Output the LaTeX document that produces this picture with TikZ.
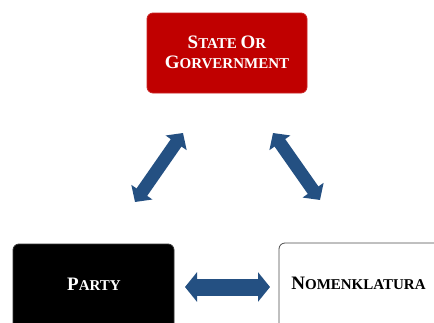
\documentclass[tikz,border=0pt]{standalone}
\usepackage{fontspec}
\setmainfont{Liberation Serif}
\usetikzlibrary{arrows.meta}
\definecolor{boxred}{RGB}{192,0,0}
\definecolor{arrowblue}{RGB}{36,80,130}
\newcommand\scx[2]{{\fontsize{19}{20}\selectfont #1}{\fontsize{15}{20}\selectfont #2}}
\begin{document}
\begin{tikzpicture}[x=1pt,y=-1pt,
  box/.style={rounded corners=6pt, line width=0.8pt},
  lbl/.style={font=\bfseries\fontsize{15}{20}\selectfont, align=center, inner sep=0pt},
  blockarrow/.style 2 args={arrowblue, line width=#1, {Triangle[length=12pt,width=#2]}-{Triangle[length=12pt,width=#2]}},
]
\useasboundingbox (0,0) rectangle (434,322);
% boxes
\path[box, fill=boxred, draw=boxred!85!white] (147,13) rectangle (307,93);
\path[box, fill=black, draw=black!80] (13,244) rectangle (174,330);
\path[box, fill=white, draw=black!70] (279,243) rectangle (440,330);
% labels
\node[lbl, text=white] (state) at (227,52) {\scx{S}{TATE} \scx{O}{R}\\\scx{G}{ORVERNMENT}};
\node[lbl, text=white] (party) at (94,284.5) {\scx{P}{ARTY}};
\node[lbl, text=black] (nomen) at (358.5,283.5) {\scx{N}{OMENKLATURA}};
% arrow ends
\coordinate (l1) at (183,133);
\coordinate (l2) at (135,202);
\coordinate (r1) at (273,133);
\coordinate (r2) at (320,200);
\coordinate (h1) at (185,287);
\coordinate (h2) at (270,287);
\draw[blockarrow={13pt}{25pt}] (l1) -- (l2);
\draw[blockarrow={13pt}{25pt}] (r1) -- (r2);
\draw[blockarrow={17pt}{29pt}] (h1) -- (h2);
\end{tikzpicture}
\end{document}
